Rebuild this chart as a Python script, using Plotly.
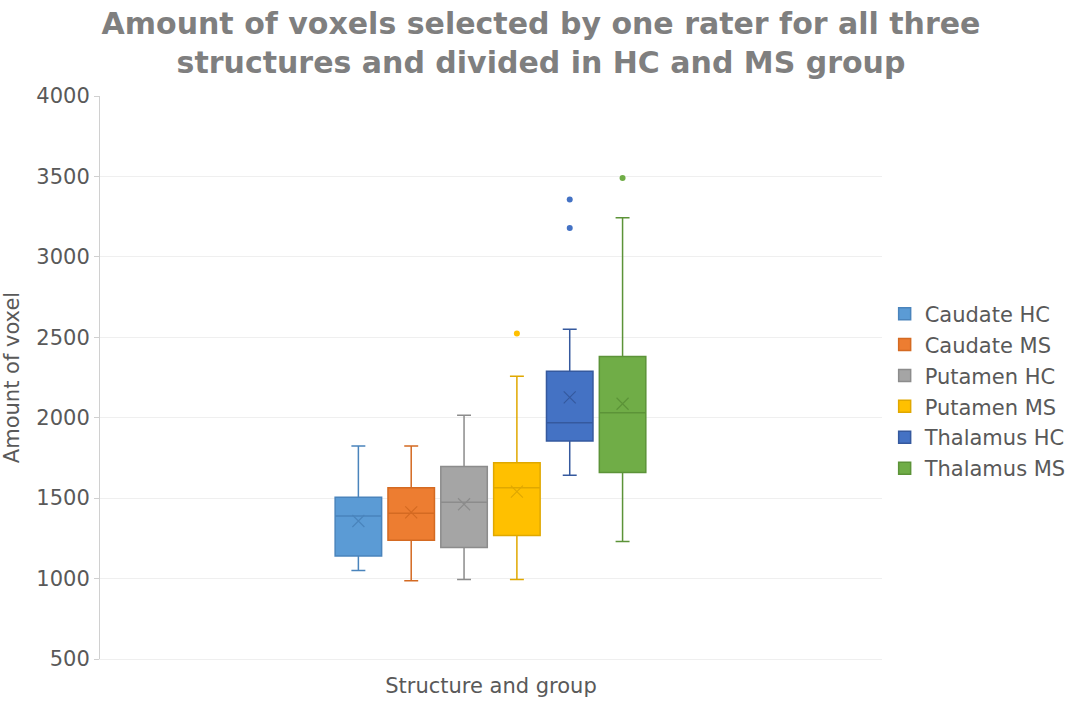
import plotly.graph_objects as go

# Box statistics (amount of voxels)
groups = ["Caudate HC", "Caudate MS", "Putamen HC", "Putamen MS", "Thalamus HC", "Thalamus MS"]
lower_whisker = [1050, 986, 995, 995, 1642, 1230]
q1_values = [1141, 1238, 1193, 1268, 1855, 1659]
median_values = [1389, 1406, 1474, 1565, 1969, 2031]
q3_values = [1505, 1565, 1696, 1720, 2289, 2380]
upper_whisker = [1824, 1824, 2016, 2258, 2550, 3243]
mean_values = [1358, 1412, 1462, 1541, 2126, 2087]
outliers = [[], [], [], [2523], [3357, 3179], [3491]]

y_ticks = [500, 1000, 1500, 2000, 2500, 3000, 3500, 4000]

# Office style colours (fill, outline)
fill_colors = ["#5B9BD5", "#ED7D31", "#A5A5A5", "#FFC000", "#4472C4", "#70AD47"]
line_colors = ["#4A84BC", "#D46A22", "#8C8C8C", "#E0A800", "#35599E", "#5C9338"]

text_color = "#595959"
font_name = "DejaVu Sans"

fig = go.Figure()

for i, name in enumerate(groups):
    # the box itself
    fig.add_trace(go.Box(
        x=[name],
        q1=[q1_values[i]],
        median=[median_values[i]],
        q3=[q3_values[i]],
        lowerfence=[lower_whisker[i]],
        upperfence=[upper_whisker[i]],
        name=name,
        legendgroup=name,
        width=0.88,
        fillcolor=fill_colors[i],
        line=dict(color=line_colors[i], width=1.5),
        whiskerwidth=0.3,
        hoverinfo="y",
    ))
    # mean shown as a cross
    fig.add_trace(go.Scatter(
        x=[name],
        y=[mean_values[i]],
        mode="markers",
        marker=dict(symbol="x-thin", size=12, line=dict(color=line_colors[i], width=1.2)),
        legendgroup=name,
        showlegend=False,
        hoverinfo="y",
    ))
    # outlier points
    if outliers[i]:
        fig.add_trace(go.Scatter(
            x=[name] * len(outliers[i]),
            y=outliers[i],
            mode="markers",
            marker=dict(size=6, color=fill_colors[i]),
            legendgroup=name,
            showlegend=False,
            hoverinfo="y",
        ))

fig.update_layout(
    width=1082,
    height=708,
    paper_bgcolor="white",
    plot_bgcolor="white",
    margin=dict(l=100, r=200, t=96, b=49, autoexpand=False),
    font=dict(family=font_name, size=21, color=text_color),
    title=dict(
        text="Amount of voxels selected by one rater for all three<br>structures and divided in HC and MS group",
        font=dict(family=font_name, size=30, color="#7f7f7f", weight="bold"),
        x=0.5, xref="container", xanchor="center",
        y=0.952, yref="container", yanchor="top",
    ),
    boxmode="overlay",
    legend=dict(
        x=1.0034, xanchor="left",
        y=0.476, yanchor="middle",
        font=dict(size=21, color=text_color),
        itemwidth=30,
        tracegroupgap=0.6,
    ),
)

fig.update_xaxes(
    type="category",
    range=[-4.89, 9.91],
    showticklabels=False,
    showgrid=False,
    showline=True,
    linecolor="#efefef",
    zeroline=False,
    title=dict(text="Structure and group", font=dict(size=21, color=text_color), standoff=19),
)

fig.update_yaxes(
    range=[500, 4000],
    tickvals=y_ticks,
    showgrid=True,
    gridcolor="#efefef",
    showline=True,
    linecolor="#d0d0d0",
    ticks="outside",
    ticklen=5,
    tickcolor="#d0d0d0",
    zeroline=False,
    tickfont=dict(size=21, color=text_color),
    title=dict(text="Amount of voxel", font=dict(size=21, color=text_color), standoff=10),
)

# drop the browser's default page margin so the figure sits at the top-left corner
fig.write_html(
    "out.html",
    config={"displayModeBar": False},
    post_script="document.body.style.margin='0';",
)
